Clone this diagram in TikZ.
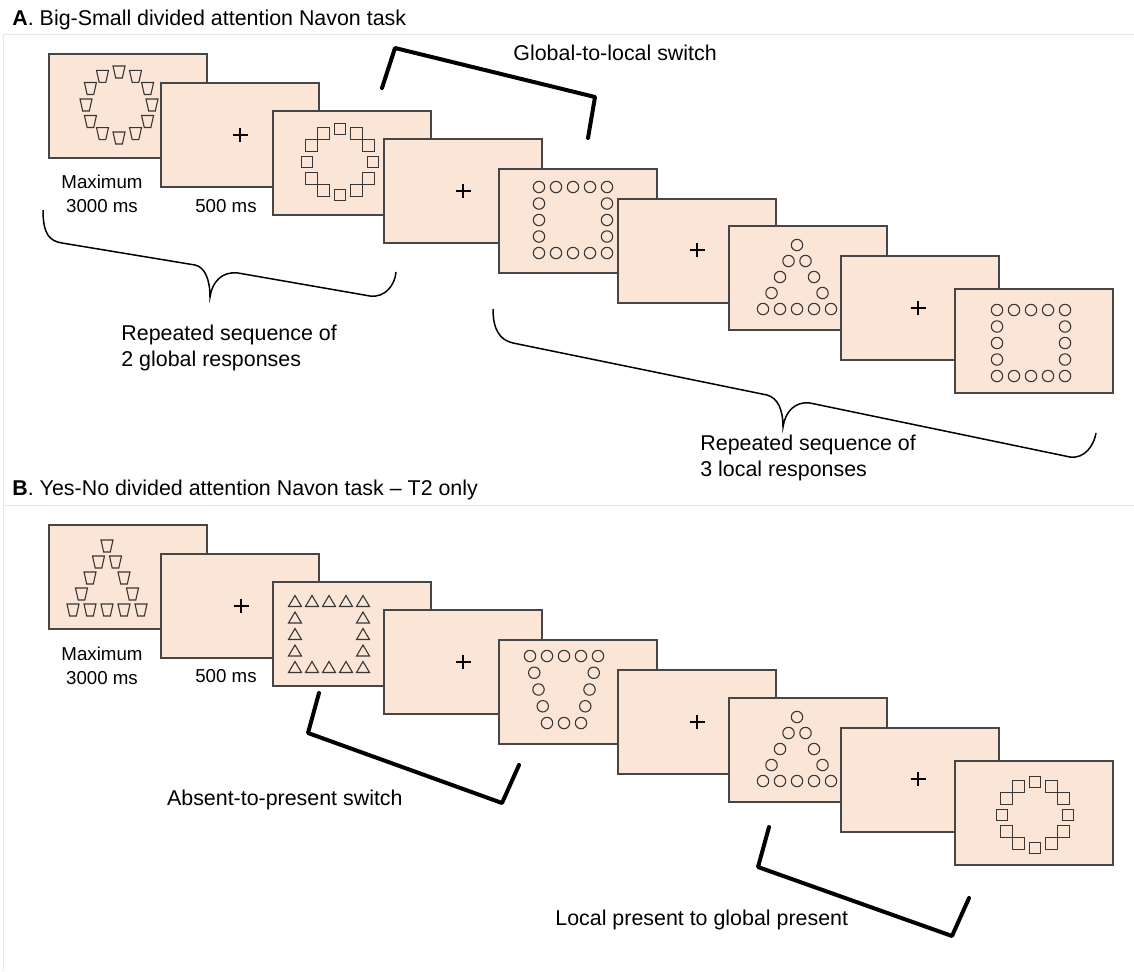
\documentclass[tikz,border=0pt]{standalone}
\usepackage{fontspec}
\setmainfont{Liberation Sans}

\definecolor{screenfill}{RGB}{251,229,214}
\definecolor{screenline}{RGB}{70,70,70}
\definecolor{elemline}{RGB}{55,55,55}
\definecolor{panelgray}{RGB}{232,232,232}

\tikzstyle{screen}=[draw=screenline,fill=screenfill,line width=0.8pt,minimum width=79pt,minimum height=52pt,anchor=north west,inner sep=0pt]
\tikzstyle{elem}=[draw=elemline,line width=0.55pt]
\tikzstyle{fixcross}=[draw=black,line width=0.7pt]
\tikzstyle{switchbr}=[draw=black,line width=2pt,line join=round,line cap=round]
\tikzstyle{brace}=[draw=black,line width=0.75pt]
\tikzstyle{label}=[inner sep=0pt,font=\fontsize{10.7}{13}\selectfont]
\tikzstyle{timing}=[inner sep=0pt,font=\fontsize{9.35}{11.75}\selectfont,align=center]

% one small element round a point
\newcommand{\eldot}[1]{\draw[elem,shift={(#1)}] (0,0) circle (5.7);}
\newcommand{\elsq}[1]{\draw[elem,shift={(#1)}] (-5.8,-5.8) rectangle (5.8,5.8);}
\newcommand{\elcup}[1]{\draw[elem,shift={(#1)}] (-6,-6) -- (6,-6) -- (3.3,6) -- (-3.3,6) -- cycle;}
\newcommand{\eltri}[1]{\draw[elem,shift={(#1)}] (0,-5.5) -- (6.5,5.5) -- (-6.5,5.5) -- cycle;}

% global shapes made of elements: #1 centre, #2 element
\newcommand{\ringof}[2]{\begin{scope}[shift={(#1)}]
  \foreach \a in {0,30,...,330} {#2{{33*cos(\a)},{33*sin(\a)}}}
\end{scope}}
\newcommand{\frameof}[2]{\begin{scope}[shift={(#1)}]
  \foreach \p in {-34,-17,0,17,34} {#2{\p,-33} #2{\p,33}}
  \foreach \q in {-16.5,0,16.5} {#2{-34,\q} #2{34,\q}}
\end{scope}}
\newcommand{\triof}[2]{\begin{scope}[shift={(#1)}]
  #2{0,-32}
  \foreach \s in {0.25,0.5,0.75} {#2{34*\s,-32+64*\s} #2{-34*\s,-32+64*\s}}
  \foreach \p in {-34,-17,0,17,34} {#2{\p,32}}
\end{scope}}
\newcommand{\cupof}[2]{\begin{scope}[shift={(#1)}]
  \foreach \p in {-34,-17,0,17,34} {#2{\p,-33}}
  \foreach \s in {0.25,0.5,0.75} {#2{34-17*\s,-33+67*\s} #2{-34+17*\s,-33+67*\s}}
  \foreach \p in {-17,0,17} {#2{\p,34}}
\end{scope}}

\newcommand{\ringcup}[1]{\ringof{#1}{\elcup}}
\newcommand{\ringsq}[1]{\ringof{#1}{\elsq}}
\newcommand{\framedot}[1]{\frameof{#1}{\eldot}}
\newcommand{\frametri}[1]{\frameof{#1}{\eltri}}
\newcommand{\tridot}[1]{\triof{#1}{\eldot}}
\newcommand{\tricup}[1]{\triof{#1}{\elcup}}
\newcommand{\cupdot}[1]{\cupof{#1}{\eldot}}
\newcommand{\fixation}[1]{\draw[fixcross,shift={(#1)}] (-7.5,0) -- (7.5,0) (0,-7) -- (0,7);}

\begin{document}
\begin{tikzpicture}[x=0.5pt,y=-0.5pt]
\useasboundingbox (0,0) rectangle (1134,971);
\draw[panelgray,line width=0.5pt] (3,971) -- (3,34) -- (1134,34) (3,505) -- (1134,505);

% A: Big-Small task
\node[label,anchor=base west] (titleA) at (12,25) {\textbf{A}. Big-Small divided attention Navon task};
\foreach \n/\x/\y/\stim/\cx/\cy in {a1/48/53/\ringcup/119/105, a2/160/82/\fixation/240/135,
  a3/272/110/\ringsq/340/162, a4/383/138/\fixation/463/191, a5/498/168/\framedot/573/220,
  a6/617/198/\fixation/697/250, a7/728/225/\tridot/797/277, a8/840/255/\fixation/918/308,
  a9/954/288/\framedot/1031/343} {
  \node[screen] (\n) at (\x,\y) {};
  \stim{\cx,\cy}
}
\node[timing,anchor=north] (maxA) at (102,175) {Maximum\\3000 ms};
\node[timing,anchor=base] (isiA) at (226,212) {500 ms};
\node[label,anchor=base west] (switchA) at (513,60) {Global-to-local switch};
\coordinate (gl1) at (382,88); \coordinate (gl2) at (395,48);
\coordinate (gl3) at (595,97); \coordinate (gl4) at (588,138);
\draw[switchbr] (gl1) -- (gl2) -- (gl3) -- (gl4);
\coordinate (ga1) at (43,210); \coordinate (ga2) at (210,297); \coordinate (ga3) at (396,272);
\draw[brace] (ga1) .. controls (43,235) and (50,241) .. (62,243) -- (195,265)
  .. controls (205,267) and (210,280) .. (ga2) .. controls (212,282) and (222,271) .. (238,273)
  -- (370,296) .. controls (385,298) and (395,285) .. (ga3);
\node[label,anchor=north west,align=left] (repA1) at (121,325) {Repeated sequence of\\2 global responses};
\coordinate (la1) at (493,309); \coordinate (la2) at (783,427); \coordinate (la3) at (1096,433);
\draw[brace] (la1) .. controls (493,330) and (500,340) .. (513,343) -- (767,395)
  .. controls (778,398) and (783,410) .. (la2) .. controls (785,412) and (795,401) .. (810,403)
  -- (1070,457) .. controls (1085,459) and (1094,445) .. (la3);
\node[label,anchor=north west,align=left] (repA2) at (700,435) {Repeated sequence of\\3 local responses};

% B: Yes-No task
\node[label,anchor=base west] (titleB) at (12,495) {\textbf{B}. Yes-No divided attention Navon task -- T2 only};
\foreach \n/\x/\y/\stim/\cx/\cy in {b1/48/524/\tricup/107/578, b2/160/553/\fixation/241/606,
  b3/272/581/\frametri/329/634, b4/383/609/\fixation/463/662, b5/498/639/\cupdot/564/689,
  b6/617/669/\fixation/697/722, b7/728/697/\tridot/797/749, b8/840/727/\fixation/918/779,
  b9/954/760/\ringsq/1035/815} {
  \node[screen] (\n) at (\x,\y) {};
  \stim{\cx,\cy}
}
\node[timing,anchor=north] (maxB) at (102,647) {Maximum\\3000 ms};
\node[timing,anchor=base] (isiB) at (226,682) {500 ms};
\coordinate (ap1) at (319,693); \coordinate (ap2) at (308,733);
\coordinate (ap3) at (502,803); \coordinate (ap4) at (519,765);
\draw[switchbr] (ap1) -- (ap2) -- (ap3) -- (ap4);
\node[label,anchor=base east] (switchB1) at (403,805) {Absent-to-present switch};
\coordinate (lp1) at (769,827); \coordinate (lp2) at (758,867);
\coordinate (lp3) at (952,936); \coordinate (lp4) at (969,898);
\draw[switchbr] (lp1) -- (lp2) -- (lp3) -- (lp4);
\node[label,anchor=base west] (switchB2) at (555,925) {Local present to global present};
\end{tikzpicture}
\end{document}
